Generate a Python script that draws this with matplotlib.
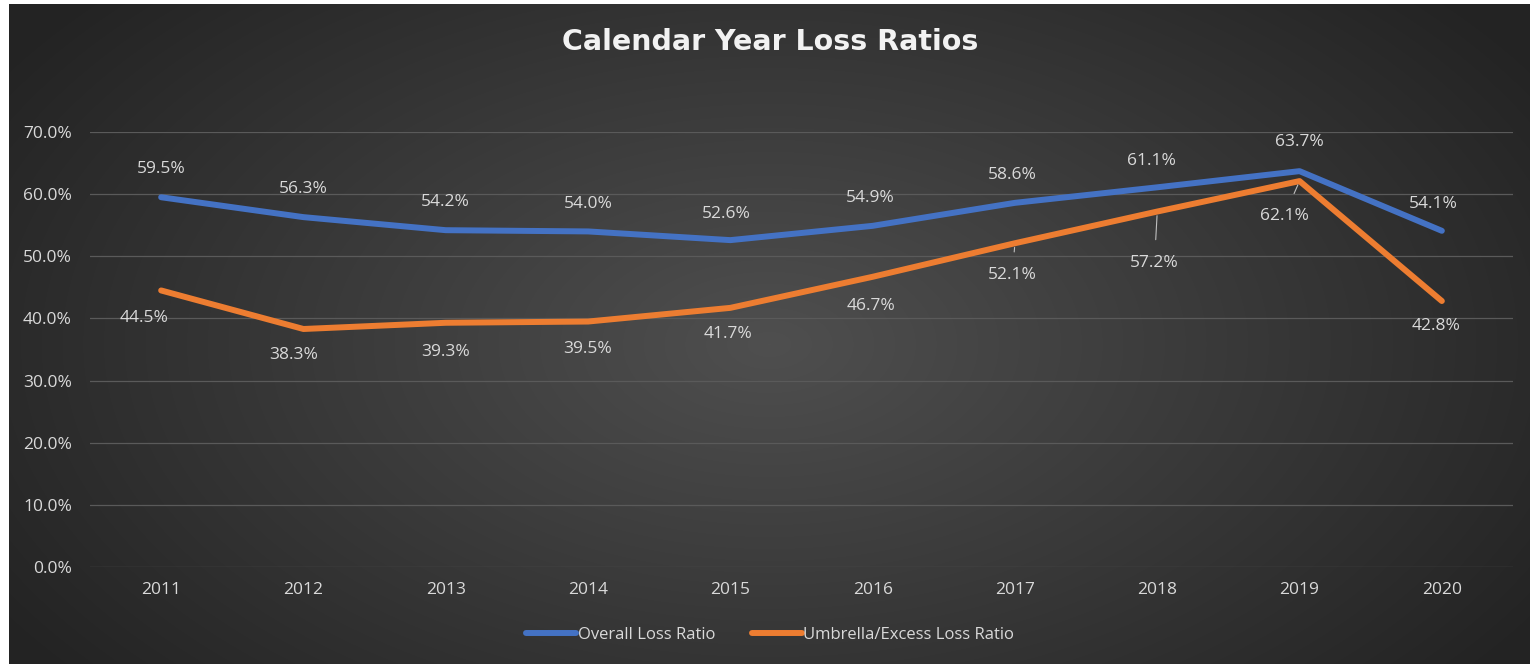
import numpy as np
import matplotlib
matplotlib.use("Agg")
from matplotlib import pyplot as plt

years = ["2011", "2012", "2013", "2014", "2015", "2016", "2017", "2018", "2019", "2020"]
overall = [59.5, 56.3, 54.2, 54.0, 52.6, 54.9, 58.6, 61.1, 63.7, 54.1]
umbrella = [44.5, 38.3, 39.3, 39.5, 41.7, 46.7, 52.1, 57.2, 62.1, 42.8]
series_names = ["Overall Loss Ratio", "Umbrella/Excess Loss Ratio"]

# label offsets in points (dx, dy), leader line flag
overall_off = [(0, 20), (0, 20), (0, 20), (0, 20), (-3, 19), (-2, 20), (-2, 20), (-4, 19), (0, 21), (-6, 19)]
umbrella_off = [(-12, -20), (-7, -19), (0, -21), (0, -20), (-2, -19), (-1, -21), (-2, -23), (-2, -37), (-11, -25), (-4, -18)]
leaders = [False, False, False, False, False, False, True, True, True, False]

plt.rcParams['font.family'] = ['Open Sans', 'DejaVu Sans']
txt = '#d9d9d9'
fs = 12.5

fig = plt.figure(figsize=(15.3, 6.64), dpi=100, facecolor='white')

# radial gradient background
bg = fig.add_axes([9 / 1530, 0, 1 - 9 / 1530, 1 - 4 / 664])
bg.set_axis_off()
h, w = 660, 1521
yy, xx = np.mgrid[0:h, 0:w]
r = np.sqrt(((xx - 760) / 900.0) ** 2 + ((yy - 340) / 520.0) ** 2)
r = np.clip(r, 0, 1)
v = 0.31 - 0.17 * r
img = np.dstack([v, v, v])
bg.imshow(img, aspect='auto', extent=(0, 1, 0, 1), origin='upper')
bg.set_xlim(0, 1)
bg.set_ylim(0, 1)

ax = fig.add_axes([90 / 1530, 97 / 664, 1423 / 1530, 435 / 664])
ax.patch.set_alpha(0)
x = np.arange(1, len(years) + 1)

ax.plot(x, overall, color='#4472C4', lw=4.3, solid_capstyle='round', solid_joinstyle='round',
        label=series_names[0], zorder=3)
ax.plot(x, umbrella, color='#ED7D31', lw=4.3, solid_capstyle='round', solid_joinstyle='round',
        label=series_names[1], zorder=3)

for i in range(len(years)):
    dx, dy = overall_off[i]
    ax.annotate(f"{overall[i]:.1f}%", (x[i], overall[i]), xytext=(dx, dy), textcoords='offset points',
                ha='center', va='center', fontsize=fs, color=txt)
    dx, dy = umbrella_off[i]
    if leaders[i]:
        ax.annotate(f"{umbrella[i]:.1f}%", (x[i], umbrella[i]), xytext=(dx, dy), textcoords='offset points',
                    ha='center', va='center', fontsize=fs, color=txt,
                    arrowprops=dict(arrowstyle='-', color='#bfbfbf', lw=0.8, shrinkA=9, shrinkB=3))
    else:
        ax.annotate(f"{umbrella[i]:.1f}%", (x[i], umbrella[i]), xytext=(dx, dy), textcoords='offset points',
                    ha='center', va='center', fontsize=fs, color=txt)

ax.set_xlim(0.5, len(years) + 0.5)
ax.set_ylim(0, 70)
ax.set_yticks(np.arange(0, 71, 10))
ax.set_yticklabels([f"{t:.1f}%" for t in np.arange(0, 71, 10)])
ax.set_xticks(x)
ax.set_xticklabels(years)
ax.tick_params(colors=txt, labelsize=fs, length=0, pad=11)
ax.tick_params(axis='y', pad=13)
ax.grid(axis='y', color='#5a5a5a', lw=0.9)
for s in ax.spines.values():
    s.set_visible(False)

fig.text(770 / 1530, 1 - 42 / 664, "Calendar Year Loss Ratios", ha='center', va='center',
         fontsize=20.5, fontweight='bold', color='#f2f2f2', family='DejaVu Sans')

leg = fig.legend(loc='center', bbox_to_anchor=(770 / 1530, 1 - 635 / 664), ncol=2, frameon=False,
                 fontsize=12, labelcolor=txt, handlelength=3.0, handletextpad=0.1, columnspacing=2.2)

fig.savefig("out.png", dpi=100, facecolor=fig.get_facecolor())
